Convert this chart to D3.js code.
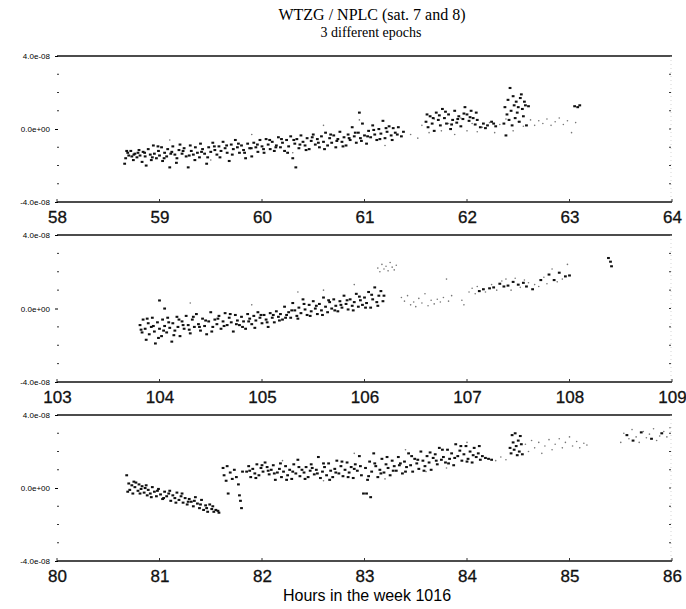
<!DOCTYPE html>
<html>
<head>
<meta charset="utf-8">
<script src="https://cdn.jsdelivr.net/npm/d3@7"></script>
<style>
  body { margin: 0; background: #fff; }
  svg { display: block; }
</style>
</head>
<body>
<svg id="chart"></svg>
<script>
// values are in units of 1e-8 (clock difference), hours on x
const unit = 1e-8;
const yTickLabels = ["-4.0e-08", "0.0e+00", "4.0e-08"];
const yTickValues = [-4, 0, 4];
const xDomain1 = [58, 64];
const xDomain2 = [103, 109];
const xDomain3 = [80, 86];
const xTicks1 = [58, 59, 60, 61, 62, 63, 64];
const xTicks2 = [103, 104, 105, 106, 107, 108, 109];
const xTicks3 = [80, 81, 82, 83, 84, 85, 86];

// ---- epoch 1 ----
const dark1 = [[58.66,-1.9],[58.67,-1.6],[58.69,-1.3],[58.70,-1.45],[58.72,-1.2],[58.73,-1.5],[58.75,-1.4],[58.76,-1.35],[58.78,-1.55],[58.79,-1.3],[58.81,-1.45],[58.83,-1.8],[58.84,-1.25],[58.86,-1.5],[58.87,-2.0],[58.89,-1.1],[58.91,-1.4],[58.92,-1.7],[58.94,-0.9],[58.95,-1.35],[58.97,-1.6],[58.99,-1.2],[59.00,-1.45],[59.02,-1.0],[59.03,-1.75],[59.05,-1.3],[59.07,-1.5],[59.08,-1.1],[59.10,-2.1],[59.12,-1.25],[59.13,-0.95],[59.15,-1.4],[59.17,-1.6],[59.19,-1.15],[59.20,-0.85],[59.22,-1.35],[59.24,-1.05],[59.26,-1.5],[59.28,-2.1],[59.30,-0.9],[59.31,-1.2],[59.33,-1.4],[59.35,-1.0],[59.37,-1.3],[59.39,-1.55],[59.40,-0.8],[59.42,-1.1],[59.44,-1.35],[59.46,-1.9],[59.48,-1.0],[59.50,-1.25],[59.52,-0.75],[59.54,-1.15],[59.56,-1.4],[59.58,-0.95],[59.60,-1.2],[59.62,-0.7],[59.64,-1.05],[59.66,-1.3],[59.68,-1.75],[59.70,-0.85],[59.72,-1.1],[59.74,-0.6],[59.76,-1.0],[59.78,-1.3],[59.80,-0.9],[59.82,-1.15],[59.84,-1.6],[59.86,-0.8],[59.88,-1.05],[59.90,-1.5],[59.92,-0.75],[59.94,-1.0],[59.96,-1.25],[59.98,-0.6],[60.00,-0.95],[60.02,-1.3],[60.04,-0.55],[60.06,-0.85],[60.08,-1.1],[60.10,-0.7],[60.12,-1.2],[60.14,-0.9],[60.16,-0.45],[60.18,-1.0],[60.20,-0.75],[60.22,-1.2],[60.24,-0.6],[60.26,-0.95],[60.28,-0.4],[60.30,-1.6],[60.33,-2.1],[60.32,-0.8],[60.34,-0.55],[60.36,-1.05],[60.38,-0.35],[60.40,-0.7],[60.42,-0.9],[60.44,-0.5],[60.46,-1.1],[60.48,-0.65],[60.50,-0.3],[60.52,-0.85],[60.54,-0.55],[60.56,-1.0],[60.58,-0.4],[60.60,-0.7],[60.62,-0.2],[60.64,-0.9],[60.66,-0.5],[60.68,-0.75],[60.70,-0.35],[60.72,-1.0],[60.74,-0.55],[60.76,-0.15],[60.78,-0.7],[60.80,-0.45],[60.82,-0.9],[60.84,-0.3],[60.86,-0.6],[60.88,0.1],[60.90,-0.4],[60.92,-0.75],[60.95,0.9],[60.94,-0.2],[60.96,-0.5],[60.98,0.3],[61.00,-0.35],[61.02,-0.8],[61.04,-0.1],[61.06,-0.45],[61.08,0.2],[61.10,-0.3],[61.12,-0.6],[61.14,0.0],[61.16,-0.25],[61.18,0.45],[61.20,-0.5],[61.22,-0.15],[61.24,0.15],[61.26,-0.35],[61.28,0.05],[61.30,-0.2],[61.33,0.1],[61.36,-0.4],[61.38,-0.15],
  [58.68,-1.2],[58.745,-1.7],[58.80,-1.15],[58.855,-1.3],[58.93,-1.55],[58.985,-0.95],[59.045,-1.6],[59.11,-1.35],[59.165,-1.85],[59.23,-1.2],[59.29,-1.45],[59.345,-1.7],[59.41,-1.25],[59.47,-1.55],[59.535,-0.95],[59.59,-1.55],[59.655,-0.9],[59.71,-1.4],[59.77,-0.8],[59.83,-1.3],[59.895,-1.05],[59.955,-0.85],[60.015,-1.1],[60.075,-0.6],[60.135,-1.0],[60.19,-0.55],[60.25,-1.3],[60.31,-0.6],[60.37,-0.85],[60.43,-1.15],[60.49,-0.45],[60.55,-0.75],[60.61,-1.1],[60.67,-0.3],[60.73,-0.65],[60.79,-0.95],[60.85,-0.5],[60.91,-0.2],[60.97,-0.65],[61.03,-0.4],[61.09,-0.05],[61.15,-0.55],[61.21,0.05],[61.27,-0.6],[61.32,-0.3],
  [61.60,0.4],[61.62,0.1],[61.64,0.7],[61.66,0.3],[61.68,-0.1],[61.70,0.9],[61.72,0.5],[61.74,0.2],[61.76,1.1],[61.78,0.6],[61.80,0.3],[61.82,0.8],[61.84,0.0],[61.86,0.5],[61.88,1.0],[61.90,0.35],[61.92,0.7],[61.94,0.15],[61.96,0.55],[61.98,1.2],[62.00,0.8],[62.02,0.45],[62.04,1.0],[62.06,0.6],[62.08,0.25],[62.10,0.5],[62.13,0.1],[62.16,0.3],[62.20,0.2],[62.24,0.4],[62.28,0.15],
  [61.61,0.8],[61.67,0.6],[61.73,0.75],[61.79,0.95],[61.85,0.25],[61.91,0.55],[61.97,0.85],[62.03,0.65],[62.09,0.9],[62.18,0.05],[62.26,0.3],
  [62.36,0.3],[62.37,1.2],[62.38,-0.35],[62.39,0.8],[62.40,1.6],[62.41,0.5],[62.42,2.25],[62.43,1.0],[62.44,0.2],[62.45,1.8],[62.46,1.3],[62.47,0.6],[62.48,1.5],[62.49,0.9],[62.50,1.2],[62.51,0.4],[62.52,1.7],[62.53,1.9],[62.54,1.1],[62.55,0.7],[62.56,1.5],[62.57,1.3],[62.58,0.2],[62.60,1.25],
  [63.05,1.25],[63.08,1.2],[63.10,1.3]];
const light1 = [[59.1,-0.6],[59.5,-1.7],[59.9,-0.3],[60.3,-1.3],[60.6,0.2],[60.95,0.5],[61.2,-0.9],[61.45,-0.3],[61.52,-0.5],[61.56,0.2],[61.63,-0.2],[61.68,0.55],[61.75,-0.1],[61.82,0.3],[61.88,-0.3],[61.94,0.6],[62.0,-0.1],[62.05,0.3],[62.1,-0.15],[62.15,0.1],[62.22,0.35],[62.27,-0.2],[62.32,0.25],[62.38,0.55],[62.45,-0.1],[62.5,0.4],[62.55,0.15],[62.62,0.5],[62.66,0.2],[62.7,0.45],[62.74,0.3],[62.78,0.55],[62.82,0.2],[62.86,0.4],[62.9,0.6],[62.94,0.25],[62.98,0.45],[63.02,-0.2],[63.06,0.35]];

// ---- epoch 2 ----
const dark2 = [[103.81,-0.9],[103.83,-1.3],[103.84,-0.6],[103.86,-1.1],[103.87,-1.7],[103.89,-0.8],[103.90,-1.4],[103.92,-1.0],[103.93,-0.5],[103.95,-1.25],[103.96,-1.9],[103.98,-0.75],[104.00,0.44],[104.00,-1.1],[104.02,-1.5],[104.03,-0.6],[104.05,0.0],[104.05,-0.95],[104.07,-1.3],[104.08,-0.5],[104.10,-1.05],[104.12,-1.8],[104.13,-0.8],[104.15,-1.2],[104.17,-0.45],[104.18,-1.0],[104.20,-1.5],[104.22,-0.7],[104.24,-1.1],[104.26,-0.4],[104.28,-0.9],[104.30,-1.35],[104.32,-0.6],[104.34,-1.0],[104.36,-0.3],[104.38,-0.85],[104.40,-1.2],[104.42,-0.55],[104.44,-0.95],[104.46,-1.4],[104.48,-0.7],[104.50,-0.2],[104.52,-1.0],[104.54,-0.6],[104.56,-0.85],[104.58,-0.4],[104.60,-1.1],[104.62,-0.7],[104.64,-0.25],[104.66,-0.9],[104.68,-0.5],[104.70,-0.75],[104.72,-1.25],[104.74,-0.35],[104.76,-0.65],[104.78,-0.9],[104.80,-0.45],[104.82,-0.7],[104.84,-1.1],[104.86,-0.3],[104.88,-0.55],[104.90,-0.85],[104.92,-0.4],[104.94,-0.65],[104.96,-0.2],[104.98,-0.5],[105.00,-0.8],[105.02,-0.35],[105.04,-0.6],[105.06,-1.0],[105.08,-0.25],[105.10,-0.5],[105.12,-0.75],[105.14,-0.15],[105.16,-0.45],[105.18,-0.3],[105.20,-0.6],[105.22,0.1],[105.24,-0.35],[105.26,-0.2],[105.28,-0.5],[105.30,0.3],[105.32,-0.1],[105.34,-0.4],[105.36,0.05],[105.38,-0.25],[105.40,0.5],[105.42,-0.05],[105.44,-0.35],[105.46,0.2],[105.48,-0.15],[105.50,0.4],[105.52,0.0],[105.54,-0.3],[105.56,0.25],[105.58,-0.1],[105.60,0.6],[105.62,0.1],[105.64,-0.2],[105.66,0.35],[105.68,0.0],[105.70,0.5],[105.72,0.15],[105.74,-0.15],[105.76,0.4],[105.78,0.05],[105.80,0.7],[105.82,0.25],[105.84,-0.05],[105.86,0.5],[105.88,0.15],[105.90,0.35],[105.92,0.8],[105.94,0.1],[105.96,0.45],[105.98,0.2],[106.00,0.6],[106.02,0.3],[106.04,0.9],[106.06,0.05],[106.08,0.5],[106.10,1.15],[106.12,0.35],[106.14,0.7],[106.16,0.95],[106.18,0.4],
  [103.82,-1.15],[103.88,-0.55],[103.94,-0.95],[103.99,-1.6],[104.04,-1.2],[104.09,-0.75],[104.14,-1.45],[104.19,-0.6],[104.23,-0.9],[104.29,-1.15],[104.33,-0.45],[104.39,-1.0],[104.45,-0.65],[104.51,-1.25],[104.57,-0.55],[104.63,-0.95],[104.69,-0.3],[104.75,-0.85],[104.81,-1.0],[104.87,-0.7],[104.93,-1.05],[104.99,-0.35],[105.05,-0.75],[105.11,-0.35],[105.17,-0.65],[105.23,-0.5],[105.29,-0.1],[105.35,-0.55],[105.41,0.25],[105.47,-0.4],[105.53,0.15],[105.59,-0.35],[105.65,0.45],[105.71,-0.1],[105.77,0.2],[105.83,0.45],[105.89,-0.1],[105.95,0.65],[106.01,0.05],[106.07,0.75],[106.13,0.15],[106.19,0.7],
  [107.12,0.95],[107.16,1.05],[107.22,1.1],[107.26,1.15],[107.32,1.35],[107.36,1.2],[107.40,1.25],[107.45,1.45],[107.50,1.3],[107.55,1.4],[107.58,1.2],[107.64,1.05],[107.72,1.55],[107.80,1.85],[107.85,1.55],[107.90,1.95],[107.96,1.75],[108.00,1.8],[108.38,2.75],[108.40,2.55],[108.41,2.3]];
const light2 = [[104.3,0.3],[104.9,0.2],[105.35,0.9],[105.6,1.0],[105.9,1.3],[106.13,2.2],[106.15,2.0],[106.17,2.4],[106.19,2.15],[106.21,2.3],[106.23,2.05],[106.25,2.5],[106.27,2.25],[106.29,2.1],[106.31,2.35],[106.36,0.6],[106.39,0.4],[106.42,0.7],[106.45,0.2],[106.48,0.35],[106.5,0.1],[106.53,0.55],[106.56,0.3],[106.59,0.8],[106.62,0.15],[106.65,0.45],[106.68,0.25],[106.71,0.5],[106.74,0.35],[106.77,0.6],[106.8,1.6],[106.82,0.4],[106.85,0.7],[106.95,0.45],[106.97,0.2],[107.02,0.9],[107.05,1.1],[107.08,0.8],[107.1,1.2],[107.18,0.9],[107.24,1.3],[107.29,1.0],[107.34,1.5],[107.38,1.6],[107.43,1.0],[107.47,1.65],[107.52,1.15],[107.56,1.55],[107.6,1.4],[107.66,1.3],[107.7,1.2],[107.75,1.7],[107.78,1.35],[107.83,2.15],[107.88,1.45],[107.93,1.6],[107.98,2.4]];

// ---- epoch 3 ----
const dark3 = [[80.68,0.7],[80.70,0.25],[80.71,-0.1],[80.73,0.15],[80.74,-0.3],[80.76,0.05],[80.77,0.3],[80.79,-0.15],[80.80,0.2],[80.82,-0.05],[80.83,0.1],[80.85,-0.25],[80.86,0.0],[80.88,-0.4],[80.89,-0.1],[80.91,-0.3],[80.93,0.05],[80.95,-0.2],[80.97,-0.45],[80.99,-0.05],[81.01,-0.35],[81.03,-0.6],[81.05,-0.2],[81.07,-0.45],[81.09,-0.3],[81.11,-0.7],[81.13,-0.4],[81.15,-0.55],[81.17,-0.25],[81.19,-0.65],[81.21,-0.45],[81.23,-0.8],[81.25,-0.55],[81.27,-0.9],[81.29,-0.6],[81.31,-0.75],[81.33,-1.0],[81.35,-0.5],[81.37,-0.85],[81.39,-1.1],[81.41,-0.65],[81.43,-1.2],[81.45,-0.95],[81.47,-1.3],[81.49,-0.9],[81.51,-1.15],[81.53,-1.3],[81.55,-1.2],[81.57,-1.25],
  [80.69,-0.2],[80.75,0.35],[80.81,-0.3],[80.87,0.15],[80.92,-0.5],[80.98,-0.15],[81.04,-0.55],[81.10,-0.15],[81.16,-0.8],[81.22,-0.3],[81.28,-0.75],[81.34,-0.7],[81.40,-0.9],[81.46,-1.1],[81.52,-1.0],[81.58,-1.35],
  [81.62,1.1],[81.63,0.7],[81.65,0.4],[81.66,1.2],[81.67,-0.3],[81.69,0.85],[81.71,0.5],[81.73,1.0],[81.75,0.6],[81.77,0.2],[81.78,-0.4],[81.79,-0.7],[81.80,-1.1],[81.81,0.9],
  [81.85,0.9],[81.87,1.2],[81.89,0.6],[81.91,1.05],[81.93,0.8],[81.95,1.3],[81.97,0.7],[81.99,1.1],[82.01,0.9],[82.03,1.4],[82.05,1.15],[82.07,0.75],[82.09,1.0],[82.11,1.25],[82.13,0.45],[82.15,0.85],[82.17,1.05],[82.19,0.6],[82.21,0.9],[82.23,1.2],[82.25,0.7],[82.27,1.0],[82.29,0.5],[82.31,1.3],[82.33,0.8],[82.35,1.55],[82.37,0.65],[82.39,1.0],[82.41,0.85],[82.43,1.15],[82.45,0.6],[82.47,0.95],[82.49,1.1],[82.51,0.75],[82.53,1.0],[82.55,1.7],[82.57,0.55],[82.59,0.9],[82.61,1.15],[82.63,0.7],[82.65,1.35],[82.67,0.95],[82.69,0.6],[82.71,1.05],[82.73,1.5],[82.75,0.8],[82.77,1.2],[82.79,0.65],[82.81,1.0],[82.83,1.4],[82.85,0.85],[82.87,1.15],[82.89,0.55],[82.91,1.3],[82.93,0.95],[82.95,1.75],[82.97,0.7],[82.99,-0.3],[83.02,-0.3],[83.06,-0.5],[83.01,1.1],[83.03,0.45],[83.05,1.45],[83.07,0.9],[83.09,1.9],[83.11,1.2],[83.13,0.6],[83.15,1.0],[83.17,1.6],[83.19,0.85],[83.21,1.3],[83.23,1.1],[83.25,0.7],[83.27,1.5],[83.29,1.2],[83.31,0.95],[83.33,1.7],[83.35,1.35],[83.37,0.8],[83.39,1.45],[83.41,1.15],[83.43,1.9],[83.45,1.25],[83.47,0.9],[83.49,1.6],[83.51,1.35],[83.53,1.05],[83.55,2.0],[83.57,1.5],[83.59,1.2],[83.61,1.75],[83.63,1.4],[83.65,1.0],[83.67,1.65],[83.69,1.85],[83.71,1.3],[83.73,2.2],[83.75,1.55],[83.77,1.7],[83.79,1.4],[83.81,2.1],[83.83,1.6],[83.85,1.9],[83.87,1.25],[83.89,2.4],[83.91,1.75],[83.93,2.05],[83.95,1.5],[83.97,1.85],[83.99,2.3],[84.01,1.6],[84.03,2.0],[84.05,1.4],[84.07,2.2],[84.09,1.7],[84.11,1.9],[84.13,1.55],[84.15,1.75],[84.18,1.65],[84.21,1.6],[84.24,1.55],
  [81.88,0.95],[81.94,0.55],[82.00,1.25],[82.06,0.95],[82.12,0.8],[82.18,1.35],[82.24,0.45],[82.30,0.9],[82.36,1.15],[82.42,0.5],[82.48,1.3],[82.54,0.8],[82.60,1.35],[82.66,0.45],[82.72,0.85],[82.78,1.45],[82.84,0.6],[82.90,1.05],[82.96,1.2],[83.04,0.65],[83.10,1.35],[83.16,0.8],[83.22,1.7],[83.28,0.95],[83.34,1.25],[83.40,0.9],[83.46,1.75],[83.52,1.55],[83.58,0.95],[83.64,1.95],[83.70,1.5],[83.76,2.1],[83.82,1.35],[83.88,1.65],[83.94,2.3],[84.00,1.45],[84.06,1.8],[84.12,2.3],
  [84.42,2.2],[84.43,1.9],[84.44,2.9],[84.45,2.5],[84.46,2.1],[84.47,3.0],[84.48,2.3],[84.49,1.8],[84.50,2.6],[84.51,2.0],[84.52,2.85],[84.53,2.4],[84.54,1.85],
  [85.56,2.9],[85.62,2.6],[85.70,3.05],[85.80,2.7],[85.90,3.0]];
const light3 = [[82.2,1.5],[82.6,0.4],[82.9,1.9],[83.2,0.5],[83.4,2.1],[83.6,0.9],[83.8,1.1],[84.0,2.5],[84.28,1.5],[84.33,1.7],[84.38,1.55],[84.57,2.4],[84.6,2.0],[84.63,2.6],[84.66,2.2],[84.7,2.5],[84.73,1.9],[84.76,2.3],[84.8,2.65],[84.83,2.1],[84.86,2.4],[84.9,2.7],[84.93,2.2],[84.96,2.5],[85.0,2.8],[85.03,2.3],[85.07,2.55],[85.1,2.2],[85.14,2.45],[85.17,2.35],[85.5,2.5],[85.53,3.0],[85.58,2.7],[85.61,3.2],[85.65,2.8],[85.68,2.5],[85.72,3.1],[85.75,2.75],[85.78,2.95],[85.82,3.25],[85.85,2.6],[85.88,2.85],[85.92,3.1],[85.95,2.8],[85.98,3.3]];

const width = 686, height = 609;
const left = 57, right = 672;

const svg = d3.select("#chart")
  .attr("width", width)
  .attr("height", height);

// title
svg.append("text")
  .attr("x", 372).attr("y", 20)
  .attr("text-anchor", "middle")
  .style("font-family", "'Liberation Serif', 'Times New Roman', serif")
  .style("font-size", "16px")
  .text("WTZG / NPLC (sat. 7 and 8)");
svg.append("text")
  .attr("x", 371).attr("y", 37)
  .attr("text-anchor", "middle")
  .style("font-family", "'Liberation Serif', 'Times New Roman', serif")
  .style("font-size", "14px")
  .text("3 different epochs");

const panels = [
  { domain: xDomain1, ticks: xTicks1, top: 56, bottom: 202, dark: dark1, light: light1 },
  { domain: xDomain2, ticks: xTicks2, top: 235, bottom: 382, dark: dark2, light: light2 },
  { domain: xDomain3, ticks: xTicks3, top: 415, bottom: 561, dark: dark3, light: light3 }
];

panels.forEach(p => {
  const x = d3.scaleLinear().domain(p.domain).range([left, right]);
  const y = d3.scaleLinear().domain([-4 * unit, 4 * unit]).range([p.bottom, p.top]);
  const g = svg.append("g");

  // top and bottom frame lines
  [p.top, p.bottom].forEach(yy => {
    g.append("line")
      .attr("x1", left).attr("x2", right)
      .attr("y1", yy).attr("y2", yy)
      .attr("stroke", "#111").attr("stroke-width", 1.6);
  });
  // faint right edge
  g.append("line")
    .attr("x1", right - 1).attr("x2", right - 1)
    .attr("y1", p.top).attr("y2", p.bottom)
    .attr("stroke", "#bbb").attr("stroke-width", 0.6)
    .attr("stroke-dasharray", "1,3");

  // y axis: labelled ticks at -4, 0, 4
  const yAxis = d3.axisLeft(y)
    .tickValues(yTickValues.map(v => v * unit))
    .tickSize(3)
    .tickFormat((d, i) => yTickLabels[i]);
  const ya = g.append("g")
    .attr("transform", "translate(" + (left + 1) + ",0)")
    .call(yAxis);
  ya.select(".domain").remove();
  ya.selectAll("text")
    .style("font-family", "'Liberation Sans', Arial, sans-serif")
    .style("font-size", "8px")
    .attr("x", -8);

  // minor y ticks at each 1e-8, left and right
  d3.range(-3, 4).filter(v => v !== 0).forEach(v => {
    g.append("line")
      .attr("x1", left).attr("x2", left + 2)
      .attr("y1", y(v * unit)).attr("y2", y(v * unit))
      .attr("stroke", "#333").attr("stroke-width", 1);
  });
  d3.range(-3, 4).forEach(v => {
    g.append("line")
      .attr("x1", right - 3).attr("x2", right - 1)
      .attr("y1", y(v * unit)).attr("y2", y(v * unit))
      .attr("stroke", "#333").attr("stroke-width", 1);
  });

  // x axis
  const xAxis = d3.axisBottom(x)
    .tickValues(p.ticks)
    .tickSize(0)
    .tickFormat(d3.format("d"));
  const xa = g.append("g")
    .attr("transform", "translate(0," + p.bottom + ")")
    .call(xAxis);
  xa.select(".domain").remove();
  xa.selectAll("text")
    .attr("y", 9)
    .style("font-family", "'Liberation Sans', Arial, sans-serif")
    .style("font-size", "17px")
    .attr("fill", "#111")
    .attr("stroke", "#111")
    .attr("stroke-width", 0.3);
  // small hour ticks on the bottom line
  p.ticks.forEach(t => {
    g.append("line")
      .attr("x1", x(t)).attr("x2", x(t))
      .attr("y1", p.bottom).attr("y2", p.bottom - 3)
      .attr("stroke", "#333");
  });

  // light points
  g.append("g").selectAll("circle")
    .data(p.light)
    .join("circle")
    .attr("cx", d => x(d[0]))
    .attr("cy", d => y(d[1] * unit))
    .attr("r", 0.8)
    .attr("fill", "#777");

  // dark points, drawn as small dashes like the scanned plot
  g.append("g").selectAll("rect")
    .data(p.dark)
    .join("rect")
    .attr("x", d => x(d[0]) - 1.4)
    .attr("y", d => y(d[1] * unit) - 1)
    .attr("width", 2.8)
    .attr("height", 2.1)
    .attr("fill", "#111");
});

// x axis title
svg.append("text")
  .attr("x", 367).attr("y", 601)
  .attr("text-anchor", "middle")
  .style("font-family", "'Liberation Sans', Arial, sans-serif")
  .style("font-size", "16px")
  .text("Hours in the week 1016");
</script>
</body>
</html>
